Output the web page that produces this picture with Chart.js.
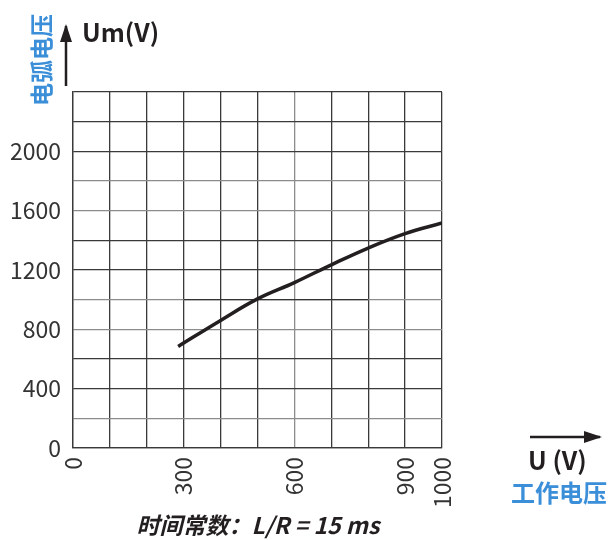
<!DOCTYPE html>
<html>
<head>
<meta charset="utf-8">
<script src="https://cdn.jsdelivr.net/npm/chart.js@4"></script>
<style>
  body { margin: 0; background: #fff; }
  #wrap { width: 611px; height: 540px; }
</style>
</head>
<body>
<div id="wrap"><canvas id="chart" width="611" height="540"></canvas></div>
<script>
// 电弧电压 Um 随工作电压 U 变化 (L/R = 15 ms)
const voltageU = [285, 400, 500, 600, 700, 800, 900, 1000];
const arcUm = [685, 860, 1005, 1115, 1235, 1348, 1445, 1517];

// 图中 1000V 处的加粗参考线段
const refX = [300, 800];
const refY = [1000, 1000];

const xTickLabels = [0, 300, 600, 900, 1000];
const yTickLabels = [0, 400, 800, 1200, 1600, 2000];

// 颜色偏浅的网格线
const lightX = [600];
const lightY = [200, 800, 1000, 1600, 1800];

const FONT = "'Noto Sans CJK SC', 'Noto Sans', sans-serif";
const BLUE = "#3b8fd9";
const INK = "#231f20";

function arrow(ctx, x1, y1, x2, y2) {
  ctx.save();
  ctx.strokeStyle = INK;
  ctx.fillStyle = INK;
  ctx.lineWidth = 2.5;
  ctx.beginPath();
  ctx.moveTo(x1, y1);
  ctx.lineTo(x2, y2);
  ctx.stroke();
  const a = Math.atan2(y2 - y1, x2 - x1);
  ctx.translate(x2, y2);
  ctx.rotate(a);
  ctx.beginPath();
  ctx.moveTo(2, 0);
  ctx.lineTo(-16, -6);
  ctx.lineTo(-16, 6);
  ctx.closePath();
  ctx.fill();
  ctx.restore();
}

const labelsPlugin = {
  id: "labels",
  afterDraw(chart) {
    const ctx = chart.ctx;
    ctx.save();
    // 纵轴
    arrow(ctx, 66, 86, 66, 26);
    ctx.fillStyle = INK;
    ctx.font = "bold 25px " + FONT;
    ctx.textAlign = "left";
    ctx.textBaseline = "middle";
    ctx.fillText("Um(V)", 82, 32);

    ctx.save();
    ctx.translate(41, 60);
    ctx.rotate(-Math.PI / 2);
    ctx.fillStyle = BLUE;
    ctx.font = "bold 23px " + FONT;
    ctx.textAlign = "center";
    ctx.textBaseline = "middle";
    ctx.fillText("电弧电压", 0, 0);
    ctx.restore();

    // 横轴
    arrow(ctx, 530, 437, 600, 437);
    ctx.fillStyle = INK;
    ctx.font = "bold 25px " + FONT;
    ctx.textAlign = "left";
    ctx.fillText("U (V)", 528, 460);
    ctx.fillStyle = BLUE;
    ctx.font = "bold 24px " + FONT;
    ctx.fillText("工作电压", 511, 493);

    // 底部说明
    ctx.fillStyle = INK;
    ctx.font = "italic bold 23px " + FONT;
    ctx.textAlign = "center";
    ctx.fillText("时间常数：L/R = 15 ms", 258, 525);
    ctx.restore();
  }
};

new Chart(document.getElementById("chart"), {
  type: "line",
  data: {
    datasets: [
      {
        data: voltageU.map((x, i) => ({ x, y: arcUm[i] })),
        borderColor: INK,
        borderWidth: 3.5,
        pointRadius: 0,
        tension: 0.4,
        fill: false,
      },
      {
        data: refX.map((x, i) => ({ x, y: refY[i] })),
        borderColor: "#333",
        borderWidth: 1.3,
        pointRadius: 0,
        fill: false,
      },
    ],
  },
  options: {
    responsive: false,
    animation: false,
    layout: { padding: { left: 0, right: 169, top: 92, bottom: 0 } },
    plugins: { legend: { display: false }, tooltip: { enabled: false } },
    scales: {
      x: {
        type: "linear",
        min: 0,
        max: 1000,
        afterFit: (s) => { s.height = 92; },
        afterBuildTicks: (s) => {
          s.ticks = [];
          for (let v = 0; v <= 1000; v += 100) s.ticks.push({ value: v });
        },
        grid: {
          drawTicks: false,
          lineWidth: 1.3,
          color: (c) => (lightX.includes(c.tick && c.tick.value) ? "#8c8c8c" : "#3a3a3a"),
        },
        border: { color: "#3a3a3a", width: 1.3 },
        ticks: {
          autoSkip: false,
          minRotation: 90,
          maxRotation: 90,
          padding: 9,
          color: "#333",
          font: { family: FONT, size: 23 },
          callback: (v) => (xTickLabels.includes(v) ? String(v) : ""),
        },
      },
      y: {
        min: 0,
        max: 2400,
        afterFit: (s) => { s.width = 73; },
        afterBuildTicks: (s) => {
          s.ticks = [];
          for (let v = 0; v <= 2400; v += 200) s.ticks.push({ value: v });
        },
        grid: {
          drawTicks: false,
          lineWidth: 1.3,
          color: (c) => (lightY.includes(c.tick && c.tick.value) ? "#8c8c8c" : "#3a3a3a"),
        },
        border: { color: "#3a3a3a", width: 1.3 },
        ticks: {
          autoSkip: false,
          padding: 12,
          color: "#333",
          font: { family: FONT, size: 23 },
          callback: (v) => (yTickLabels.includes(v) ? String(v) : ""),
        },
      },
    },
  },
  plugins: [labelsPlugin],
});
</script>
</body>
</html>
